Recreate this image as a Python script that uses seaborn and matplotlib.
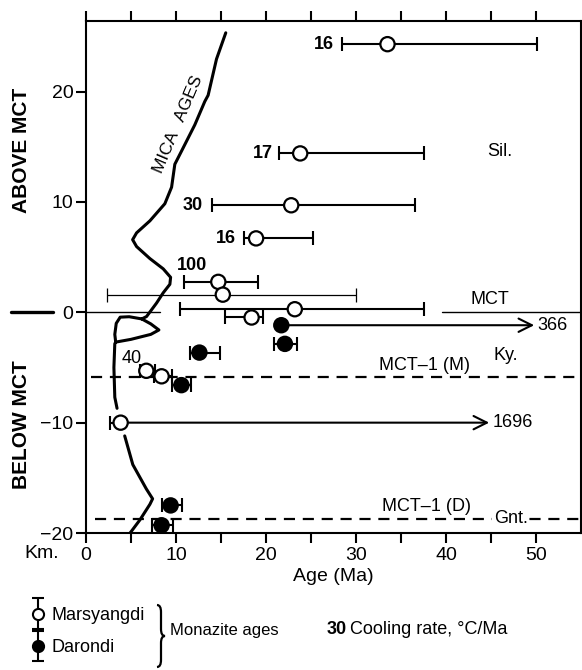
import numpy as np
import pandas as pd
import seaborn as sns
import matplotlib.pyplot as plt
from matplotlib.path import Path
from matplotlib.patches import PathPatch
from matplotlib.container import ErrorbarContainer
from matplotlib.legend_handler import HandlerErrorbar

# Marsyangdi monazite ages (open symbols): age (Ma), depth rel. to MCT (km), error range
mars_age = [33.5, 23.8, 22.8, 18.9, 14.7, 23.2, 18.4, 6.7, 8.4, 3.85]
mars_depth = [24.3, 14.4, 9.7, 6.7, 2.76, 0.28, -0.47, -5.3, -5.8, -10.0]
mars_lo = [28.4, 21.4, 14.0, 17.6, 10.9, 10.4, 15.4, 6.0, 7.6, 2.7]
mars_hi = [50.1, 37.5, 36.6, 25.2, 19.1, 37.6, 19.7, 7.65, 9.5, 3.85]

# sample in the MCT zone with a very wide age range
wide_age = [15.2]
wide_depth = [1.6]
wide_lo = [2.36]
wide_hi = [30.0]

# Darondi monazite ages (filled symbols)
dar_age = [21.7, 22.1, 12.6, 10.6, 9.4, 8.4]
dar_depth = [-1.17, -2.86, -3.65, -6.6, -17.5, -19.3]
dar_lo = [21.7, 20.9, 11.5, 9.6, 8.4, 7.3]
dar_hi = [21.7, 23.4, 14.9, 11.7, 10.7, 9.7]

# open-ended ranges drawn as arrows
arrow_start = [21.7, 3.85]
arrow_depth = [-1.17, -10.0]
arrow_end = [49.8, 44.8]
arrow_label = ["366", "1696"]

# cooling rates (°C/Ma) written next to the samples
rate_label = ["16", "17", "30", "16", "100"]
rate_age = [26.4, 19.6, 11.8, 15.5, 11.8]
rate_depth = [24.3, 14.4, 9.7, 6.7, 4.25]
rate_small_label = ["40"]
rate_small_age = [5.1]
rate_small_depth = [-4.2]

# mica age curve (NaN = break in the line)
mica_age = [15.53, 14.5, 13.57, 13.2, 12.09, 10.62, 9.87, 9.51, 8.76, 7.1, 5.62, 5.18,
            5.62, 7.1, 8.58, 9.4, 9.32, 8.58, 7.84, 6.73, 6.2,
            7.2, 8.1, 7.2, 5.0, 3.3, 3.2, 3.36, 3.8, 4.8, 6.2, np.nan,
            3.3, 3.2, 3.1, 3.2, 3.45, np.nan,
            4.3, 5.2, 6.7, 7.4, 7.1, 6.0, 4.9]
mica_depth = [25.33, 22.95, 19.67, 19.11, 16.99, 14.62, 13.42, 11.34, 9.84, 8.29, 7.2, 6.58,
              5.96, 4.87, 3.94, 3.17, 2.54, 1.77, 0.84, -0.38, -0.6,
              -1.05, -1.6, -2.0, -2.45, -2.7, -2.0, -1.0, -0.44, -0.4, -0.6, np.nan,
              -2.7, -2.85, -5.0, -7.7, -8.7, np.nan,
              -11.2, -13.8, -16.0, -16.9, -17.4, -18.8, -20.0]

# structural boundaries
mct_depth = 0.0
mct_left = [0.0, 8.2]
mct_right = [39.6, 55.0]
mct_mark = [-8.3, -3.7]
mct1m_depth = -5.85
mct1d_depth = -18.7

zone_label = ["Sil.", "MCT", "Ky.", "MCT\u20131 (M)", "MCT\u20131 (D)"]
zone_age = [46.0, 44.9, 46.6, 37.6, 37.8]
zone_depth = [14.6, 1.2, -3.9, -4.8, -17.6]

sns.set_theme(style="ticks")
plt.rcParams["font.family"] = ["Liberation Sans", "DejaVu Sans"]
plt.rcParams["axes.linewidth"] = 1.5
for key in ["text.color", "axes.labelcolor", "xtick.color", "ytick.color", "axes.edgecolor"]:
    plt.rcParams[key] = "black"

fig = plt.figure(figsize=(5.82, 6.70), dpi=100)
ax = fig.add_axes([86 / 582, 137 / 670, 495 / 582, 512 / 670])

lw = 1.5
ax.plot(mica_age, mica_depth, color="black", lw=2.2, solid_capstyle="round",
        solid_joinstyle="round")
ax.text(10.3, 17.0, "MICA   AGES", rotation=67, ha="center", va="center", fontsize=12.5)

# boundaries
ax.plot(mct_left, [mct_depth] * 2, color="black", lw=1)
ax.plot(mct_right, [mct_depth] * 2, color="black", lw=1)
ax.plot(mct_mark, [mct_depth] * 2, color="black", lw=2.4, clip_on=False)
ax.axhline(mct1m_depth, xmin=0.01, color="black", lw=1.6, dashes=(5, 3.5))
ax.axhline(mct1d_depth, xmin=0.018, color="black", lw=1.6, dashes=(5, 3.5))

# error bars
ax.errorbar(mars_age, mars_depth,
            xerr=[np.subtract(mars_age, mars_lo), np.subtract(mars_hi, mars_age)],
            fmt="none", ecolor="black", elinewidth=lw, capsize=5, capthick=lw, zorder=3)
ax.errorbar(dar_age, dar_depth,
            xerr=[np.subtract(dar_age, dar_lo), np.subtract(dar_hi, dar_age)],
            fmt="none", ecolor="black", elinewidth=lw, capsize=5, capthick=lw, zorder=3)
ax.errorbar(wide_age, wide_depth,
            xerr=[np.subtract(wide_age, wide_lo), np.subtract(wide_hi, wide_age)],
            fmt="none", ecolor="black", elinewidth=0.9, capsize=5, capthick=0.9, zorder=3)

for a0, d, a1, lab in zip(arrow_start, arrow_depth, arrow_end, arrow_label):
    ax.annotate("", xy=(a1, d), xytext=(a0, d),
                arrowprops=dict(arrowstyle="->,head_length=0.8,head_width=0.4",
                                lw=lw, color="black", shrinkA=0, shrinkB=0))
    ax.text(a1 + 0.4, d, lab, ha="left", va="center", fontsize=13)

# markers
pts = pd.DataFrame({
    "age": mars_age + wide_age + dar_age,
    "depth": mars_depth + wide_depth + dar_depth,
    "site": ["Marsyangdi"] * (len(mars_age) + len(wide_age)) + ["Darondi"] * len(dar_age),
})
sns.scatterplot(data=pts, x="age", y="depth", hue="site",
                palette={"Marsyangdi": "white", "Darondi": "black"},
                edgecolor="black", linewidth=1.6, s=105, legend=False, zorder=5, ax=ax)

for lab, a, d in zip(rate_label, rate_age, rate_depth):
    ax.text(a, d, lab, ha="center", va="center", fontsize=13, fontweight="bold")
for lab, a, d in zip(rate_small_label, rate_small_age, rate_small_depth):
    ax.text(a, d, lab, ha="center", va="center", fontsize=13)
for lab, a, d in zip(zone_label, zone_age, zone_depth):
    ax.text(a, d, lab, ha="center", va="center", fontsize=13)
ax.text(47.2, mct1d_depth, "Gnt.", ha="center", va="center", fontsize=13,
        bbox=dict(facecolor="white", edgecolor="none", pad=1))

# axes
ax.set_xlim(0, 55)
ax.set_ylim(-20, 26.4)
ax.set_xticks([0, 10, 20, 30, 40, 50])
ax.set_xticks(np.arange(5, 55, 10), minor=True)
ax.set_yticks([-20, -10, 0, 10, 20])
ax.tick_params(axis="x", which="both", top=True, direction="out", length=7, width=1.5,
               labelsize=14, pad=3)
ax.tick_params(axis="y", direction="out", length=7, width=1.5, labelsize=14, pad=2)
ax.set_xlabel("Age (Ma)", fontsize=14, labelpad=3)
ax.set_ylabel("")

fig.text(22 / 582, 1 - 150 / 670, "ABOVE MCT", rotation=90, ha="center", va="center",
         fontsize=15, fontweight="bold")
fig.text(22 / 582, 1 - 425 / 670, "BELOW MCT", rotation=90, ha="center", va="center",
         fontsize=15, fontweight="bold")
fig.text(42 / 582, 1 - 553 / 670, "Km.", ha="center", va="center", fontsize=14)

# legend
h_m = ax.errorbar([np.nan], [np.nan], yerr=[1], fmt="o", mfc="white", mec="black", ms=8,
                  mew=1.5, ecolor="black", elinewidth=1.5, capsize=4, label="Marsyangdi")
h_d = ax.errorbar([np.nan], [np.nan], yerr=[1], fmt="o", mfc="black", mec="black", ms=8,
                  mew=1.5, ecolor="black", elinewidth=1.5, capsize=4, label="Darondi")
fig.legend(handles=[h_m, h_d], loc="upper left", bbox_to_anchor=(30 / 582, 1 - 607 / 670),
           frameon=False, fontsize=13, handlelength=0.9, handletextpad=0.3,
           labelspacing=0.85, borderpad=0, borderaxespad=0,
           handler_map={ErrorbarContainer: HandlerErrorbar(yerr_size=0.85)})

# curly brace
bx, btop, bbot, bw, br = 1.57, 0.65, 0.03, 0.08, 0.07
bmid = (btop + bbot) / 2
verts = [(bx, btop), (bx + bw / 2, btop), (bx + bw / 2, btop - br),
         (bx + bw / 2, bmid + br), (bx + bw / 2, bmid), (bx + bw, bmid),
         (bx + bw / 2, bmid), (bx + bw / 2, bmid - br),
         (bx + bw / 2, bbot + br), (bx + bw / 2, bbot), (bx, bbot)]
codes = [Path.MOVETO, Path.CURVE3, Path.CURVE3, Path.LINETO, Path.CURVE3, Path.CURVE3,
         Path.CURVE3, Path.CURVE3, Path.LINETO, Path.CURVE3, Path.CURVE3]
fig.add_artist(PathPatch(Path(verts, codes), transform=fig.dpi_scale_trans,
                         fill=False, lw=1.6, edgecolor="black"))

fig.text(170 / 582, 1 - 630 / 670, "Monazite ages", ha="left", va="center", fontsize=12)
fig.text(327 / 582, 1 - 630 / 670, "30", ha="left", va="center", fontsize=13, fontweight="bold")
fig.text(350 / 582, 1 - 630 / 670, "Cooling rate, \u00b0C/Ma", ha="left", va="center", fontsize=13)

fig.savefig("out.png", dpi=100)
